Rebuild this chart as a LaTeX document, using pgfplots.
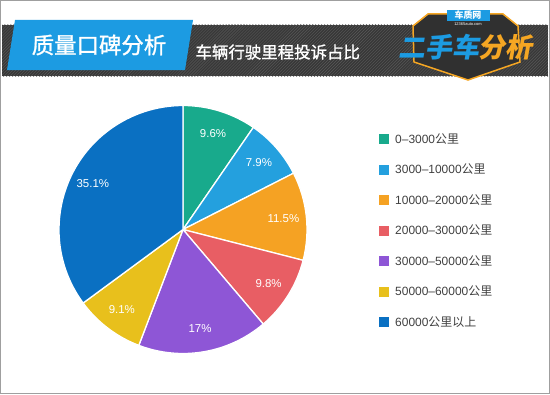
\documentclass[border=0pt]{standalone}
\usepackage{pgfplots}
\pgfplotsset{compat=1.18}
\usepackage{pgfplotstable}
\usepackage{fontspec}
\setmainfont{Liberation Sans}
\newfontfamily\cjk{Noto Sans CJK SC}
\newfontfamily\cjkmed[FakeBold=1.2]{Noto Sans CJK SC}
\newfontfamily\cjklogo[FakeSlant=0.18]{Noto Sans CJK SC}
\usetikzlibrary{patterns}
\newcommand{\km}{{\cjk 公里}}
\definecolor{c0}{RGB}{24,170,140}
\definecolor{c1}{RGB}{36,160,222}
\definecolor{c2}{RGB}{245,162,35}
\definecolor{c3}{RGB}{232,94,100}
\definecolor{c4}{RGB}{142,86,214}
\definecolor{c5}{RGB}{232,192,28}
\definecolor{c6}{RGB}{10,112,194}
\definecolor{bandgray}{RGB}{56,56,56}
\definecolor{titleblue}{RGB}{28,155,226}
\definecolor{logoorange}{RGB}{245,166,35}
\definecolor{legtext}{RGB}{64,64,64}
\pgfplotstableread[col sep=comma]{
value,label
9.6,0–3000\km
7.9,3000–10000\km
11.5,10000–20000\km
9.8,20000–30000\km
17,30000–50000\km
9.1,50000–60000\km
35.1,60000{\cjk 公里以上}
}\piedata
\begin{document}
\begin{tikzpicture}
\def\cx{183}\def\cy{229.5}\def\R{124}
\def\cum{0}
\pgfplotsforeachungrouped \i in {0,...,6}{%
  \pgfplotstablegetelem{\i}{value}\of\piedata
  \let\v\pgfplotsretval
  \pgfmathsetmacro\a{90-3.6*\cum}%
  \pgfmathsetmacro\b{90-3.6*(\cum+\v)}%
  \pgfmathsetmacro\m{90-3.6*(\cum+\v/2)}%
  \pgfmathsetmacro\sx{\cx+\R*cos(\a)}%
  \pgfmathsetmacro\sy{\cy-\R*sin(\a)}%
  \pgfmathsetmacro\lx{\cx+101*cos(\m)}%
  \pgfmathsetmacro\ly{\cy-101*sin(\m)}%
  \expandafter\xdef\csname sa\i\endcsname{\a}%
  \expandafter\xdef\csname eb\i\endcsname{\b}%
  \expandafter\xdef\csname sx\i\endcsname{\sx}%
  \expandafter\xdef\csname sy\i\endcsname{\sy}%
  \expandafter\xdef\csname lx\i\endcsname{\lx}%
  \expandafter\xdef\csname ly\i\endcsname{\ly}%
  \expandafter\xdef\csname val\i\endcsname{\v}%
  \pgfplotstablegetelem{\i}{label}\of\piedata
  \expandafter\global\expandafter\let\csname lab\i\endcsname\pgfplotsretval
  \pgfmathsetmacro\cum{\cum+\v}%
  \xdef\cum{\cum}%
}
\begin{axis}[name=ax, width=550bp, height=394bp, scale only axis,
  xmin=0, xmax=550, ymin=0, ymax=394, y dir=reverse, hide axis, clip=false]
% frame
\draw[gray!75, line width=1bp] (axis cs:0.5,0.5) rectangle (axis cs:549.5,393.5);
% header band
\fill[bandgray] (axis cs:2,25) rectangle (axis cs:548,76);
\fill[pattern=north east lines, pattern color=gray!70!black] (axis cs:2,25) rectangle (axis cs:548,76);
% title box
\fill[titleblue] (axis cs:15,20) -- (axis cs:193,20) -- (axis cs:185,70) -- (axis cs:7,70) -- cycle;
\node[white, font=\cjkmed\fontsize{22.5}{24}\selectfont] at (axis cs:99,45) {质量口碑分析};
\node[white, anchor=west, font=\cjkmed\fontsize{16.5}{18}\selectfont] at (axis cs:192,52) {车辆行驶里程投诉占比};
% logo
\filldraw[fill=bandgray!85!black, draw=logoorange, line width=1.5bp]
  (axis cs:413,26) -- (axis cs:428,14) -- (axis cs:503,14) -- (axis cs:518,26)
  -- (axis cs:520,62) -- (axis cs:468,80) -- (axis cs:414,62) -- cycle;
\fill[titleblue] (axis cs:447,10) rectangle (axis cs:490,21);
\node[white, font=\cjk\bfseries\fontsize{9}{9}\selectfont] at (axis cs:468,15.5) {车质网};
\node[white, font=\fontsize{4}{4}\selectfont] at (axis cs:468,24.5) {12365auto.com};
\node[anchor=west, inner sep=0pt, font=\cjklogo\bfseries\fontsize{27}{27}\selectfont] at (axis cs:398,47)
  {\textcolor{titleblue}{二手车}\textcolor{logoorange}{分析}};
% pie
\pgfplotsinvokeforeach{0,...,6}{%
  \filldraw[fill=c#1, draw=white, line width=1.3bp, line join=round]
    (axis cs:\cx,\cy) -- (axis cs:\csname sx#1\endcsname,\csname sy#1\endcsname)
    arc[start angle=\csname sa#1\endcsname, end angle=\csname eb#1\endcsname, radius=\R bp] -- cycle;
}
\pgfplotsinvokeforeach{0,...,6}{%
  \node[white, font=\fontsize{11.5}{12}\selectfont] at (axis cs:\csname lx#1\endcsname,\csname ly#1\endcsname) {\csname val#1\endcsname\%};
  \fill[c#1] (axis cs:379,{134+30.5*#1}) rectangle (axis cs:389,{144+30.5*#1});
  \node[anchor=west, legtext, inner sep=0pt, font=\fontsize{12}{12}\selectfont] at (axis cs:395,{139+30.5*#1}) {\csname lab#1\endcsname};
}
\end{axis}
\pgfresetboundingbox
\path (ax.south west) rectangle (ax.north east);
\end{tikzpicture}
\end{document}
